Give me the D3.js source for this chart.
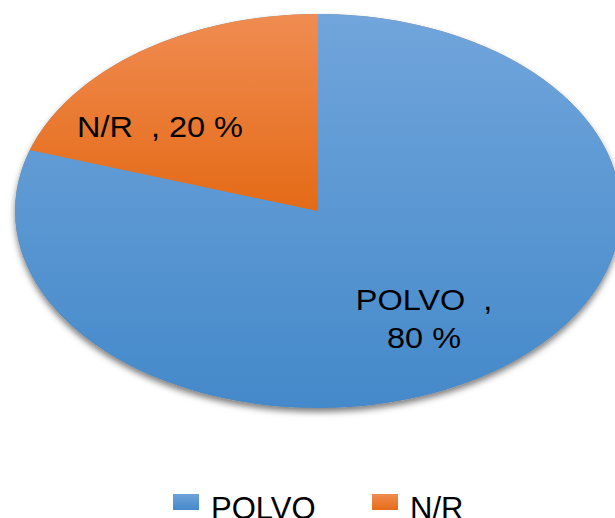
<!DOCTYPE html>
<html>
<head>
<meta charset="utf-8">
<script src="https://cdn.jsdelivr.net/npm/d3@7"></script>
<style>
  body { margin: 0; background: #fff; }
  svg { display: block; font-family: "Liberation Sans", Arial, sans-serif; }
</style>
</head>
<body>
<svg id="chart"></svg>
<script>
// chart data
const categories = ["POLVO", "N/R"];
const values = [80, 20];
const labelLines = [["POLVO  ,", "80 %"], ["N/R  , 20 %"]];

const width = 615, height = 518;
const cx = 318, cy = 211, rx = 303, ry = 197;

const svg = d3.select("#chart").attr("width", width).attr("height", height);
const defs = svg.append("defs");

// gradients (light at top, darker at bottom)
const grads = [
  { id: "gBlue", top: "#71a5db", bottom: "#4489ca" },
  { id: "gOrange", top: "#f08c52", bottom: "#e46a16" },
];
const legendGrads = [
  { id: "lBlue", top: "#6ea3da", bottom: "#4689ca" },
  { id: "lOrange", top: "#f08b50", bottom: "#e56c18" },
];
grads.concat(legendGrads).forEach((g) => {
  const lg = defs.append("linearGradient").attr("id", g.id)
    .attr("x1", 0).attr("y1", 0).attr("x2", 0).attr("y2", 1);
  lg.append("stop").attr("offset", "0%").attr("stop-color", g.top);
  lg.append("stop").attr("offset", "100%").attr("stop-color", g.bottom);
});

const shadow = defs.append("filter").attr("id", "shadow")
  .attr("x", "-10%").attr("y", "-10%").attr("width", "120%").attr("height", "130%");
shadow.append("feDropShadow").attr("dx", 0).attr("dy", 4)
  .attr("stdDeviation", 3).attr("flood-color", "#000").attr("flood-opacity", 0.5);

// first slice starts at 12 o'clock, going clockwise
const pie = d3.pie().sort(null);
const arcs = pie(values);
const arc = d3.arc().innerRadius(0).outerRadius(rx);

// shadow under the whole ellipse
svg.append("ellipse")
  .attr("cx", cx).attr("cy", cy).attr("rx", rx).attr("ry", ry)
  .attr("fill", "#888").attr("filter", "url(#shadow)");

const g = svg.append("g")
  .attr("transform", `translate(${cx},${cy}) scale(1,${ry / rx})`);

g.selectAll("path")
  .data(arcs)
  .join("path")
  .attr("d", arc)
  .attr("fill", (d, i) => `url(#${grads[i].id})`);

// data labels (slightly stretched horizontally like the original)
const labelPos = [[424, 310], [160, 137]];
labelLines.forEach((lines, i) => {
  const t = svg.append("text")
    .attr("transform", `translate(${labelPos[i][0]},${labelPos[i][1]}) scale(1.12,1)`)
    .attr("text-anchor", "middle")
    .attr("font-size", 29).attr("fill", "#000");
  lines.forEach((l, j) => {
    t.append("tspan").attr("x", 0).attr("dy", j === 0 ? 0 : 38)
      .attr("xml:space", "preserve").text(l);
  });
});

// legend
const legendX = [173, 372];
const legend = svg.append("g");
categories.forEach((c, i) => {
  legend.append("rect")
    .attr("x", legendX[i]).attr("y", 494)
    .attr("width", 26).attr("height", 16)
    .attr("fill", `url(#${legendGrads[i].id})`);
  legend.append("text")
    .attr("x", legendX[i] + 38).attr("y", 519)
    .attr("font-size", 31).attr("fill", "#000")
    .text(c);
});
</script>
</body>
</html>
